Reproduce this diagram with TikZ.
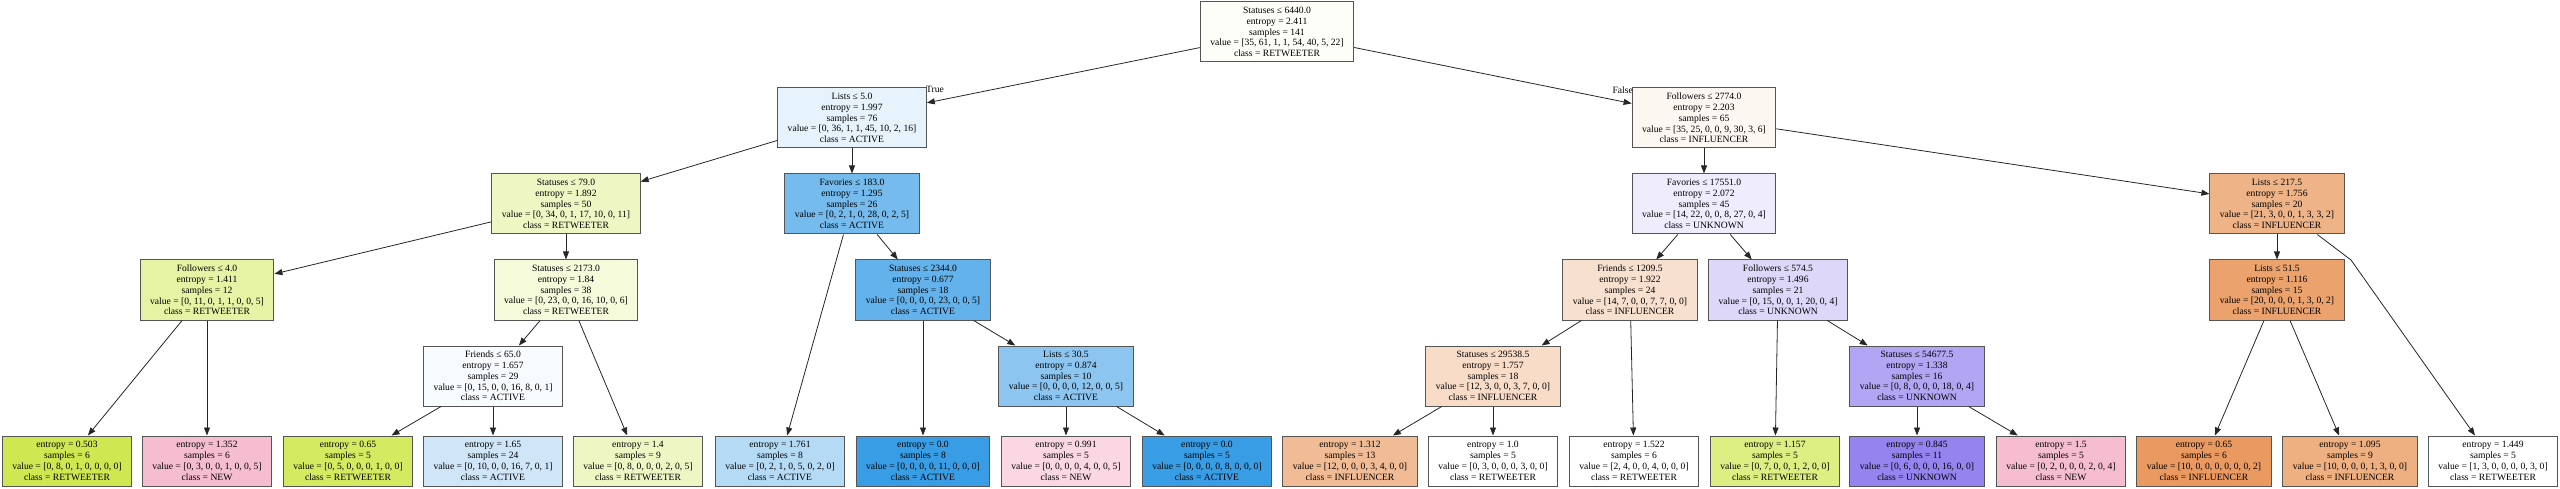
\documentclass[tikz,border=0pt]{standalone}
\usepackage{fontspec}
\setmainfont{Liberation Serif}
\usetikzlibrary{arrows.meta}
\definecolor{cRoot}{HTML}{FDFEF7}
\definecolor{cA}{HTML}{E7F3FC}
\definecolor{cB}{HTML}{FDF7F2}
\definecolor{cC}{HTML}{EEF7C3}
\definecolor{cD}{HTML}{75BBED}
\definecolor{cE}{HTML}{EFECFD}
\definecolor{cF}{HTML}{EFB388}
\definecolor{cG}{HTML}{E6F3A4}
\definecolor{cH}{HTML}{F5FADB}
\definecolor{cI}{HTML}{64B2EB}
\definecolor{cJ}{HTML}{F8E0CE}
\definecolor{cK}{HTML}{DDD7FA}
\definecolor{cL}{HTML}{ECA26D}
\definecolor{cM}{HTML}{F7FBFE}
\definecolor{cN}{HTML}{8CC6F0}
\definecolor{cO}{HTML}{F8DCC8}
\definecolor{cP}{HTML}{B2A5F3}
\definecolor{l1}{HTML}{CFE852}
\definecolor{l2}{HTML}{F6BDD0}
\definecolor{l3}{HTML}{D3EA61}
\definecolor{l4}{HTML}{CEE6F8}
\definecolor{l5}{HTML}{EEF7C4}
\definecolor{l6}{HTML}{B5DAF5}
\definecolor{l7}{HTML}{399DE5}
\definecolor{l8}{HTML}{FAD7E3}
\definecolor{l10}{HTML}{F1BC95}
\definecolor{l13}{HTML}{DDEF83}
\definecolor{l14}{HTML}{9583EF}
\definecolor{l16}{HTML}{EA9A61}
\definecolor{l17}{HTML}{EEAF81}
\definecolor{bordergray}{HTML}{555555}
\begin{document}
\begin{tikzpicture}[x=1pt,y=1pt,
  box/.style={draw=bordergray, line width=1pt, rectangle, align=center,
    inner xsep=10pt, inner ysep=1.5pt, font=\fontsize{9.6}{10.8}\selectfont},
  dnode/.style={box, minimum height=60pt},
  leaf/.style={box, minimum height=50pt},
  edge/.style={draw=black!85, line width=0.8pt, -{Triangle[length=8pt,width=6pt]}},
  elabel/.style={font=\fontsize{9.6}{10.8}\selectfont, inner sep=0pt}]
\useasboundingbox (0,-489) rectangle (2560,0);
% decision nodes
\node[dnode, fill=cRoot] (root) at (1277,-32) {Statuses ≤ 6440.0\\entropy = 2.411\\samples = 141\\value = [35, 61, 1, 1, 54, 40, 5, 22]\\class = RETWEETER};
\node[dnode, fill=cA] (n1) at (852,-118) {Lists ≤ 5.0\\entropy = 1.997\\samples = 76\\value = [0, 36, 1, 1, 45, 10, 2, 16]\\class = ACTIVE};
\node[dnode, fill=cB] (n2) at (1704,-118) {Followers ≤ 2774.0\\entropy = 2.203\\samples = 65\\value = [35, 25, 0, 0, 9, 30, 3, 6]\\class = INFLUENCER};
\node[dnode, fill=cC] (n3) at (566,-204) {Statuses ≤ 79.0\\entropy = 1.892\\samples = 50\\value = [0, 34, 0, 1, 17, 10, 0, 11]\\class = RETWEETER};
\node[dnode, fill=cD] (n4) at (852,-204) {Favories ≤ 183.0\\entropy = 1.295\\samples = 26\\value = [0, 2, 1, 0, 28, 0, 2, 5]\\class = ACTIVE};
\node[dnode, fill=cE] (n5) at (1704,-204) {Favories ≤ 17551.0\\entropy = 2.072\\samples = 45\\value = [14, 22, 0, 0, 8, 27, 0, 4]\\class = UNKNOWN};
\node[dnode, fill=cF] (n6) at (2277,-204) {Lists ≤ 217.5\\entropy = 1.756\\samples = 20\\value = [21, 3, 0, 0, 1, 3, 3, 2]\\class = INFLUENCER};
\node[dnode, fill=cG] (n7) at (207,-290) {Followers ≤ 4.0\\entropy = 1.411\\samples = 12\\value = [0, 11, 0, 1, 1, 0, 0, 5]\\class = RETWEETER};
\node[dnode, fill=cH] (n8) at (566,-290) {Statuses ≤ 2173.0\\entropy = 1.84\\samples = 38\\value = [0, 23, 0, 0, 16, 10, 0, 6]\\class = RETWEETER};
\node[dnode, fill=cI] (n9) at (923,-290) {Statuses ≤ 2344.0\\entropy = 0.677\\samples = 18\\value = [0, 0, 0, 0, 23, 0, 0, 5]\\class = ACTIVE};
\node[dnode, fill=cJ] (n10) at (1630,-290) {Friends ≤ 1209.5\\entropy = 1.922\\samples = 24\\value = [14, 7, 0, 0, 7, 7, 0, 0]\\class = INFLUENCER};
\node[dnode, fill=cK] (n11) at (1778,-290) {Followers ≤ 574.5\\entropy = 1.496\\samples = 21\\value = [0, 15, 0, 0, 1, 20, 0, 4]\\class = UNKNOWN};
\node[dnode, fill=cL] (n12) at (2277,-290) {Lists ≤ 51.5\\entropy = 1.116\\samples = 15\\value = [20, 0, 0, 0, 1, 3, 0, 2]\\class = INFLUENCER};
\node[dnode, fill=cM] (n13) at (493,-376) {Friends ≤ 65.0\\entropy = 1.657\\samples = 29\\value = [0, 15, 0, 0, 16, 8, 0, 1]\\class = ACTIVE};
\node[dnode, fill=cN] (n14) at (1066,-376) {Lists ≤ 30.5\\entropy = 0.874\\samples = 10\\value = [0, 0, 0, 0, 12, 0, 0, 5]\\class = ACTIVE};
\node[dnode, fill=cO] (n15) at (1493,-376) {Statuses ≤ 29538.5\\entropy = 1.757\\samples = 18\\value = [12, 3, 0, 0, 3, 7, 0, 0]\\class = INFLUENCER};
\node[dnode, fill=cP] (n16) at (1917,-376) {Statuses ≤ 54677.5\\entropy = 1.338\\samples = 16\\value = [0, 8, 0, 0, 0, 18, 0, 4]\\class = UNKNOWN};
% leaves
\node[leaf, fill=l1] (L1) at (67,-461) {entropy = 0.503\\samples = 6\\value = [0, 8, 0, 1, 0, 0, 0, 0]\\class = RETWEETER};
\node[leaf, fill=l2] (L2) at (207,-461) {entropy = 1.352\\samples = 6\\value = [0, 3, 0, 0, 1, 0, 0, 5]\\class = NEW};
\node[leaf, fill=l3] (L3) at (348,-461) {entropy = 0.65\\samples = 5\\value = [0, 5, 0, 0, 0, 1, 0, 0]\\class = RETWEETER};
\node[leaf, fill=l4] (L4) at (493,-461) {entropy = 1.65\\samples = 24\\value = [0, 10, 0, 0, 16, 7, 0, 1]\\class = ACTIVE};
\node[leaf, fill=l5] (L5) at (638,-461) {entropy = 1.4\\samples = 9\\value = [0, 8, 0, 0, 0, 2, 0, 5]\\class = RETWEETER};
\node[leaf, fill=l6] (L6) at (780,-461) {entropy = 1.761\\samples = 8\\value = [0, 2, 1, 0, 5, 0, 2, 0]\\class = ACTIVE};
\node[leaf, fill=l7] (L7) at (923,-461) {entropy = 0.0\\samples = 8\\value = [0, 0, 0, 0, 11, 0, 0, 0]\\class = ACTIVE};
\node[leaf, fill=l8] (L8) at (1066,-461) {entropy = 0.991\\samples = 5\\value = [0, 0, 0, 0, 4, 0, 0, 5]\\class = NEW};
\node[leaf, fill=l7] (L9) at (1207,-461) {entropy = 0.0\\samples = 5\\value = [0, 0, 0, 0, 8, 0, 0, 0]\\class = ACTIVE};
\node[leaf, fill=l10] (L10) at (1350,-461) {entropy = 1.312\\samples = 13\\value = [12, 0, 0, 0, 3, 4, 0, 0]\\class = INFLUENCER};
\node[leaf, fill=white] (L11) at (1493,-461) {entropy = 1.0\\samples = 5\\value = [0, 3, 0, 0, 0, 3, 0, 0]\\class = RETWEETER};
\node[leaf, fill=white] (L12) at (1634,-461) {entropy = 1.522\\samples = 6\\value = [2, 4, 0, 0, 4, 0, 0, 0]\\class = RETWEETER};
\node[leaf, fill=l13] (L13) at (1775,-461) {entropy = 1.157\\samples = 5\\value = [0, 7, 0, 0, 1, 2, 0, 0]\\class = RETWEETER};
\node[leaf, fill=l14] (L14) at (1917,-461) {entropy = 0.845\\samples = 11\\value = [0, 6, 0, 0, 0, 16, 0, 0]\\class = UNKNOWN};
\node[leaf, fill=l2] (L15) at (2061,-461) {entropy = 1.5\\samples = 5\\value = [0, 2, 0, 0, 0, 2, 0, 4]\\class = NEW};
\node[leaf, fill=l16] (L16) at (2204,-461) {entropy = 0.65\\samples = 6\\value = [10, 0, 0, 0, 0, 0, 0, 2]\\class = INFLUENCER};
\node[leaf, fill=l17] (L17) at (2350,-461) {entropy = 1.095\\samples = 9\\value = [10, 0, 0, 0, 1, 3, 0, 0]\\class = INFLUENCER};
\node[leaf, fill=white] (L18) at (2493,-461) {entropy = 1.449\\samples = 5\\value = [1, 3, 0, 0, 0, 0, 3, 0]\\class = RETWEETER};
% edge labels
\node[elabel, anchor=south west] (tlab) at (926,-93) {True};
\node[elabel, anchor=south east] (flab) at (1633,-94) {False};
% bend point
\coordinate (b1) at (2351,-260);
% edges
\draw[edge] (root) -- (n1);
\draw[edge] (root) -- (n2);
\draw[edge] (n1) -- (n3);
\draw[edge] (n1) -- (n4);
\draw[edge] (n2) -- (n5);
\draw[edge] (n2) -- (n6);
\draw[edge] (n3) -- (n7);
\draw[edge] (n3) -- (n8);
\draw[edge] (n4) -- (L6);
\draw[edge] (n4) -- (n9);
\draw[edge] (n5) -- (n10);
\draw[edge] (n5) -- (n11);
\draw[edge] (n6) -- (n12);
\draw[edge] (n6) -- (b1) -- (L18);
\draw[edge] (n7) -- (L1);
\draw[edge] (n7) -- (L2);
\draw[edge] (n8) -- (n13);
\draw[edge] (n8) -- (L5);
\draw[edge] (n9) -- (L7);
\draw[edge] (n9) -- (n14);
\draw[edge] (n10) -- (n15);
\draw[edge] (n10) -- (L12);
\draw[edge] (n11) -- (L13);
\draw[edge] (n11) -- (n16);
\draw[edge] (n12) -- (L16);
\draw[edge] (n12) -- (L17);
\draw[edge] (n13) -- (L3);
\draw[edge] (n13) -- (L4);
\draw[edge] (n14) -- (L8);
\draw[edge] (n14) -- (L9);
\draw[edge] (n15) -- (L10);
\draw[edge] (n15) -- (L11);
\draw[edge] (n16) -- (L14);
\draw[edge] (n16) -- (L15);
\end{tikzpicture}
\end{document}
